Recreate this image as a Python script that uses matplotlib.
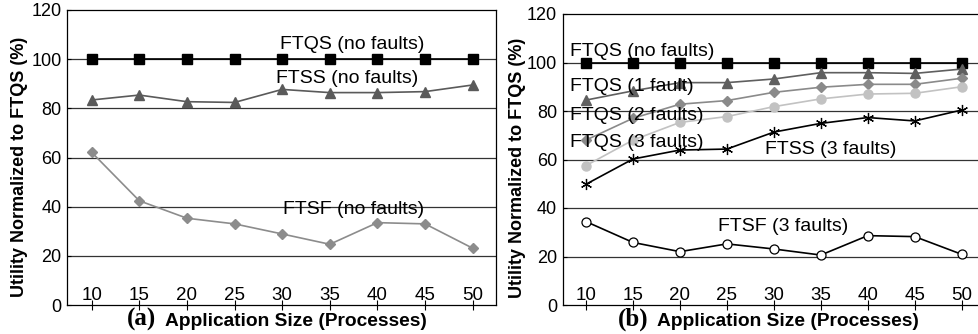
import matplotlib
matplotlib.use("Agg")
import matplotlib.pyplot as plt

plt.rcParams['font.family'] = ['Liberation Sans', 'DejaVu Sans']

# ---------------- data ----------------
sizes = [10, 15, 20, 25, 30, 35, 40, 45, 50]
xtick_labels = ["10", "15", "20", "25", "30", "35", "40", "45", "50"]
yticks = [0, 20, 40, 60, 80, 100, 120]

# panel (a)
a_ftqs = [100, 100, 100, 100, 100, 100, 100, 100, 100]
a_ftss = [83.4, 85.4, 82.7, 82.4, 87.7, 86.4, 86.4, 86.8, 89.5]
a_ftsf = [62.1, 42.4, 35.3, 33.0, 28.9, 24.7, 33.5, 33.0, 23.1]

# panel (b)
b_ftqs0 = [100, 100, 100, 100, 100, 100, 100, 100, 100]
b_ftqs1 = [84.5, 88.3, 91.7, 91.7, 93.2, 95.8, 95.8, 95.5, 97.3]
b_ftqs2 = [68.0, 77.0, 82.8, 84.3, 87.7, 89.8, 91.0, 91.0, 93.5]
b_ftqs3 = [57.5, 68.0, 75.3, 77.7, 81.8, 85.0, 87.0, 87.3, 90.0]
b_ftss3 = [49.8, 60.2, 63.9, 64.3, 71.3, 74.9, 77.3, 75.9, 80.4]
b_ftsf3 = [34.4, 25.8, 22.0, 25.2, 23.1, 20.6, 28.6, 28.2, 20.9]

W, H = 979, 334
fig = plt.figure(figsize=(W / 100, H / 100), dpi=100)


def px(x0, y0, x1, y1):
    return [x0 / W, 1 - y1 / H, (x1 - x0) / W, (y1 - y0) / H]


def style_axes(ax, xlim, right_spine=True):
    ax.set_xlim(*xlim)
    ax.set_ylim(0, 120)
    ax.set_yticks(yticks)
    ax.set_yticklabels([str(v) for v in yticks], fontsize=13)
    ax.tick_params(axis='y', direction='in', length=3, width=0.8, pad=4)
    ax.set_xticks(sizes)
    ax.set_xticklabels([])
    ax.tick_params(axis='x', direction='inout', length=7, width=0.8)
    for v in [20, 40, 60, 80, 100]:
        ax.axhline(v, color='#333333', lw=0.9, zorder=1)
    for s in ['left', 'bottom', 'top']:
        ax.spines[s].set_linewidth(0.9)
    ax.spines['right'].set_visible(right_spine)
    ax.spines['right'].set_linewidth(0.9)
    for x, lab in zip(sizes, xtick_labels):
        ax.annotate(lab, (x, 0), xytext=(0, 5), textcoords='offset pixels',
                    ha='center', va='baseline', fontsize=13.5)


# ---------------- panel (a) ----------------
axa = fig.add_axes(px(67, 10, 496, 305))
style_axes(axa, (7.41, 52.45))
axa.plot(sizes, a_ftqs, color='black', lw=1.2, marker='s', ms=7.5, zorder=3)
axa.plot(sizes, a_ftss, color='#5a5a5a', lw=1.2, marker='^', ms=7, zorder=3)
axa.plot(sizes, a_ftsf, color='#8c8c8c', lw=1.2, marker='D', ms=5, zorder=3)
axa.text(37.4, 106, "FTQS (no faults)", ha='center', va='center', fontsize=14)
axa.text(36.8, 92, "FTSS (no faults)", ha='center', va='center', fontsize=14)
axa.text(37.5, 39, "FTSF (no faults)", ha='center', va='center', fontsize=14)

# ---------------- panel (b) ----------------
axb = fig.add_axes(px(562.7, 14, 979, 305))
style_axes(axb, (7.52, 51.84), right_spine=False)
axb.plot(sizes, b_ftqs0, color='black', lw=1.2, marker='s', ms=7.5, zorder=3)
axb.plot(sizes, b_ftqs1, color='#5f5f5f', lw=1.2, marker='^', ms=6.5, zorder=3)
axb.plot(sizes, b_ftqs2, color='#8a8a8a', lw=1.2, marker='D', ms=5, zorder=3)
axb.plot(sizes, b_ftqs3, color='#c2c2c2', lw=1.2, marker='o', ms=6.5, zorder=3)
axb.plot(sizes, b_ftss3, color='black', lw=1.2, marker=(6, 2, 0), ms=8, mew=0.9, zorder=3)
axb.plot(sizes, b_ftsf3, color='black', lw=1.2, marker='o', ms=6.5, mfc='white', mew=0.9, zorder=3)
axb.text(8.3, 104.5, "FTQS (no faults)", ha='left', va='center', fontsize=14, zorder=4)
axb.text(8.3, 90.3, "FTQS (1 fault)", ha='left', va='center', fontsize=14, zorder=4)
axb.text(8.3, 78.0, "FTQS (2 faults)", ha='left', va='center', fontsize=14, zorder=4)
axb.text(8.3, 67.0, "FTQS (3 faults)", ha='left', va='center', fontsize=14, zorder=4)
axb.text(36.0, 64.0, "FTSS (3 faults)", ha='center', va='center', fontsize=14, zorder=4)
axb.text(31.0, 32.2, "FTSF (3 faults)", ha='center', va='center', fontsize=14, zorder=4)

# ---------------- labels ----------------
ylab = "Utility Normalized to FTQS (%)"
fig.text(20 / W, 1 - 166.5 / H, ylab, rotation=90, ha='center', va='center',
         fontsize=13, fontweight='bold')
fig.text(518 / W, 1 - 167.5 / H, ylab, rotation=90, ha='center', va='center',
         fontsize=13, fontweight='bold')

base_y = 1 - 326 / H
fig.text(127 / W, base_y, "(a)", ha='left', va='baseline', fontsize=18,
         fontweight='bold', family='Liberation Serif')
fig.text(165 / W, base_y, "Application Size (Processes)", ha='left', va='baseline',
         fontsize=13.8, fontweight='bold')
fig.text(618 / W, base_y, "(b)", ha='left', va='baseline', fontsize=18,
         fontweight='bold', family='Liberation Serif')
fig.text(657 / W, base_y, "Application Size (Processes)", ha='left', va='baseline',
         fontsize=13.8, fontweight='bold')

fig.savefig("out.png", dpi=100)
